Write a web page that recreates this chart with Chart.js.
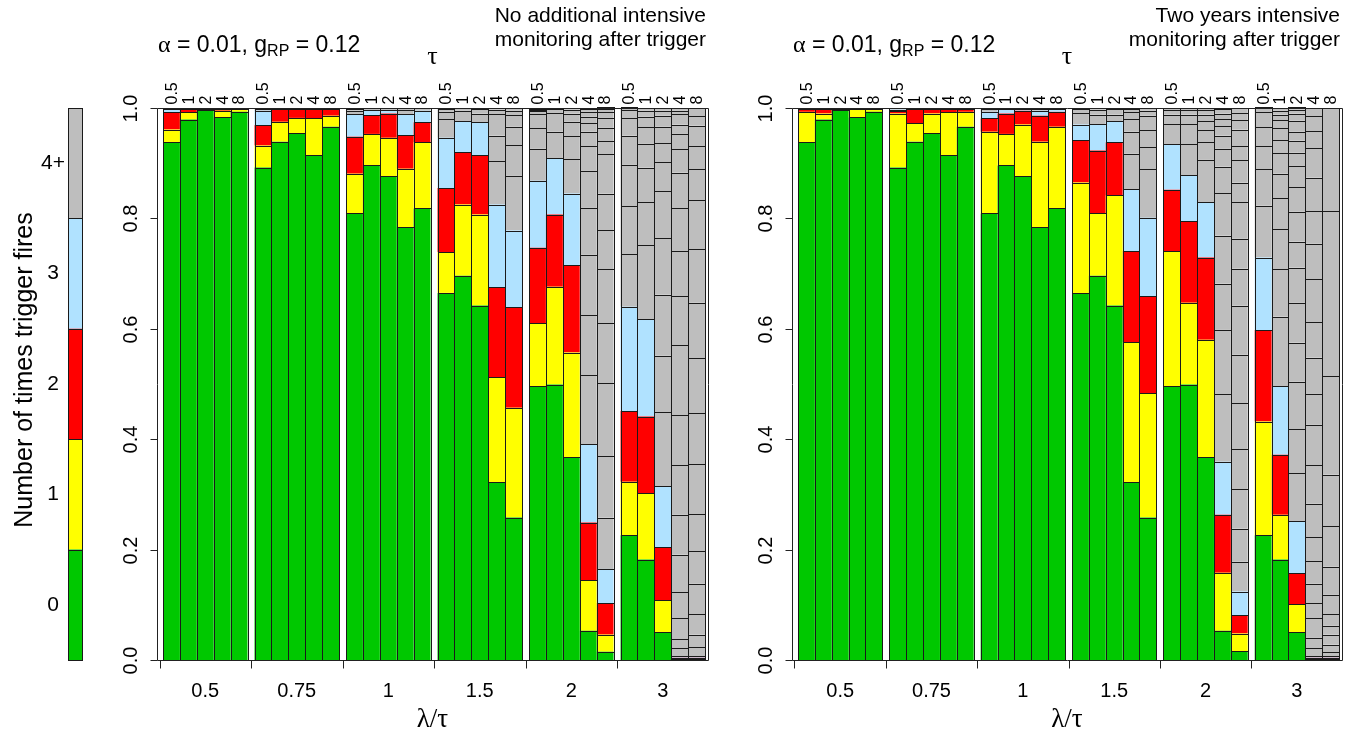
<!DOCTYPE html>
<html>
<head>
<meta charset="utf-8">
<script src="https://cdn.jsdelivr.net/npm/chart.js@4.4.0/dist/chart.umd.min.js"></script>
<style>
  html, body { margin: 0; padding: 0; background: #fff; width: 1362px; height: 742px; overflow: hidden; }
  canvas { position: absolute; left: 0; top: 0; }
</style>
</head>
<body>
<canvas id="key" width="1362" height="742"></canvas>
<canvas id="noExtra" width="1362" height="742"></canvas>
<canvas id="twoYears" width="1362" height="742"></canvas>
<script>
// Group labels (lambda / tau), bar labels (tau) and axis labels
const ratioLabels = ['0.5', '0.75', '1', '1.5', '2', '3'];
const tauLabels = ['0.5', '1', '2', '4', '8'];
const yTickLabels = ['0.0', '0.2', '0.4', '0.6', '0.8', '1.0'];
const fireLabels = ['0', '1', '2', '3', '4+'];

// Fractions of runs with 0, 1, 2, 3 trigger fires; one bar per (lambda/tau, tau) pair
// --- no additional intensive monitoring ---
const zeroA = [
  0.938, 0.979, 0.997, 0.983, 0.993,
  0.892, 0.939, 0.954, 0.914, 0.966,
  0.809, 0.896, 0.876, 0.784, 0.818,
  0.665, 0.696, 0.642, 0.322, 0.258,
  0.496, 0.499, 0.367, 0.053, 0.015,
  0.226, 0.182, 0.050, 0.001, 0.001];
const oneA = [
  0.023, 0.013, 0.002, 0.012, 0.005,
  0.040, 0.036, 0.028, 0.067, 0.020,
  0.072, 0.057, 0.070, 0.106, 0.120,
  0.074, 0.129, 0.165, 0.190, 0.199,
  0.114, 0.177, 0.190, 0.092, 0.031,
  0.097, 0.120, 0.058, 0.001, 0.001];
const twoA = [
  0.031, 0.006, 0.001, 0.004, 0.001,
  0.037, 0.023, 0.017, 0.018, 0.013,
  0.067, 0.034, 0.044, 0.061, 0.036,
  0.116, 0.095, 0.107, 0.163, 0.182,
  0.137, 0.131, 0.158, 0.104, 0.057,
  0.128, 0.139, 0.096, 0.002, 0.002];
const threeA = [
  0.006, 0.001, 0.000, 0.001, 0.001,
  0.026, 0.001, 0.001, 0.001, 0.001,
  0.041, 0.009, 0.006, 0.038, 0.021,
  0.091, 0.056, 0.060, 0.150, 0.139,
  0.121, 0.102, 0.130, 0.142, 0.062,
  0.189, 0.176, 0.111, 0.003, 0.003];
// 4, 5, 6, ... fires
const moreA = [
  [0.002], [0.001], [], [], [],
  [0.003, 0.002], [0.001], [], [], [],
  [0.006, 0.003, 0.002], [0.004], [0.004], [0.007, 0.004], [0.005],
  [0.034, 0.013, 0.005, 0.002], [0.019, 0.005], [0.016, 0.008, 0.002],
  [0.079, 0.046, 0.039, 0.008, 0.003], [0.099, 0.056, 0.033, 0.021, 0.008, 0.005],
  [0.058, 0.037, 0.026, 0.005, 0.003, 0.002], [0.048, 0.034, 0.007, 0.002],
  [0.062, 0.042, 0.026, 0.015, 0.007, 0.003],
  [0.125, 0.109, 0.109, 0.085, 0.067, 0.045, 0.026, 0.015, 0.012, 0.009, 0.005, 0.002],
  [0.093, 0.111, 0.132, 0.109, 0.098, 0.071, 0.066, 0.071, 0.024, 0.024, 0.018, 0.010, 0.007, 0.002],
  [0.095, 0.087, 0.075, 0.053, 0.031, 0.015, 0.005],
  [0.134, 0.078, 0.063, 0.043, 0.030, 0.019, 0.011, 0.005],
  [0.134, 0.102, 0.111, 0.102, 0.085, 0.053, 0.034, 0.030, 0.020, 0.009, 0.005],
  [0.014, 0.017, 0.038, 0.047, 0.068, 0.072, 0.090, 0.090, 0.127, 0.089, 0.082, 0.077, 0.065, 0.042, 0.028, 0.017, 0.019, 0.006, 0.005],
  [0.016, 0.023, 0.037, 0.055, 0.059, 0.067, 0.091, 0.092, 0.100, 0.100, 0.097, 0.089, 0.056, 0.042, 0.037, 0.017, 0.015]];

// --- two years intensive monitoring ---
const zeroB = [
  0.938, 0.979, 0.997, 0.983, 0.993,
  0.892, 0.939, 0.954, 0.914, 0.966,
  0.809, 0.896, 0.876, 0.784, 0.818,
  0.665, 0.696, 0.642, 0.322, 0.258,
  0.496, 0.499, 0.367, 0.053, 0.016,
  0.226, 0.182, 0.050, 0.001, 0.001];
const oneB = [
  0.055, 0.011, 0.002, 0.016, 0.006,
  0.098, 0.033, 0.036, 0.078, 0.027,
  0.148, 0.057, 0.094, 0.155, 0.148,
  0.200, 0.113, 0.200, 0.254, 0.225,
  0.245, 0.148, 0.213, 0.105, 0.032,
  0.206, 0.081, 0.051, 0.001, 0.001];
const twoB = [
  0.006, 0.009, 0.001, 0.001, 0.001,
  0.005, 0.027, 0.009, 0.007, 0.006,
  0.024, 0.037, 0.025, 0.047, 0.027,
  0.077, 0.114, 0.096, 0.165, 0.176,
  0.111, 0.148, 0.149, 0.105, 0.033,
  0.166, 0.109, 0.056, 0.002, 0.002];
const threeB = [
  0.001, 0.001, 0.000, 0.000, 0.000,
  0.002, 0.001, 0.001, 0.001, 0.001,
  0.012, 0.009, 0.003, 0.009, 0.006,
  0.028, 0.048, 0.038, 0.112, 0.142,
  0.082, 0.083, 0.100, 0.096, 0.043,
  0.131, 0.124, 0.094, 0.003, 0.003];
const moreB = [
  [], [], [], [], [],
  [0.003], [], [], [], [],
  [0.005, 0.002], [0.001], [0.002], [0.003, 0.002], [0.001],
  [0.021, 0.007, 0.002], [0.017, 0.009, 0.003], [0.012, 0.010, 0.002],
  [0.064, 0.040, 0.023, 0.012, 0.007, 0.001], [0.088, 0.040, 0.031, 0.026, 0.009, 0.005],
  [0.037, 0.017, 0.008, 0.004], [0.056, 0.037, 0.017, 0.008, 0.004],
  [0.077, 0.032, 0.022, 0.016, 0.012, 0.008, 0.004],
  [0.122, 0.117, 0.084, 0.087, 0.077, 0.048, 0.032, 0.024, 0.017, 0.013, 0.010, 0.009],
  [0.054, 0.060, 0.071, 0.073, 0.083, 0.088, 0.089, 0.067, 0.054, 0.066, 0.036, 0.040, 0.026, 0.030, 0.017, 0.013, 0.009],
  [0.094, 0.066, 0.042, 0.034, 0.027, 0.009],
  [0.126, 0.086, 0.072, 0.057, 0.044, 0.037, 0.024, 0.021, 0.015, 0.010, 0.007, 0.005],
  [0.087, 0.080, 0.086, 0.071, 0.072, 0.064, 0.047, 0.054, 0.044, 0.039, 0.024, 0.022, 0.016, 0.020, 0.013, 0.007, 0.004],
  [0.014, 0.019, 0.036, 0.027, 0.035, 0.041, 0.043, 0.061, 0.070, 0.073, 0.056, 0.066, 0.064, 0.078, 0.064, 0.059, 0.061, 0.053, 0.031, 0.027, 0.015],
  [0.007, 0.014, 0.018, 0.016, 0.021, 0.035, 0.051, 0.073, 0.094, 0.178, 0.299, 0.187]];

// ---------- styling ----------
const FILL = ['#00c800', '#ffff00', '#ff0000', '#b0e2ff', '#bebebe'];
const EDGE = '#1a1a1a';
const SANS = '"Liberation Sans", Arial, sans-serif';
const SERIF = '"Liberation Serif", "Times New Roman", serif';

// bar slots on a linear x scale: bars are 1 unit wide, groups separated by GAP
const LEAD = 0.355, GAP = 0.414, XMAX = 32.6, PER = tauLabels.length;
const barX = j => LEAD + Math.floor(j / PER) * (PER + GAP) + (j % PER) + 0.5;

function buildDatasets(zero, one, two, three, more) {
  const base = [zero, one, two, three];
  const extra = Math.max(...more.map(m => m.length));
  const sets = [];
  for (let k = 0; k < 4 + extra; k++) {
    const vals = k < 4 ? base[k] : more.map(m => (k - 4 < m.length ? m[k - 4] : null));
    sets.push({
      label: String(k),
      data: vals.map((v, j) => ({ x: barX(j), y: v })),
      backgroundColor: FILL[Math.min(k, 4)],
      borderWidth: 0,
      inflateAmount: 0,
      barPercentage: 1,
      categoryPercentage: 1
    });
  }
  return sets;
}

// thin outline round every bar segment, centred on its edges
const segmentOutline = {
  id: 'segmentOutline',
  afterDatasetsDraw(chart) {
    const ctx = chart.ctx;
    ctx.save();
    ctx.strokeStyle = EDGE;
    ctx.lineWidth = 1;
    chart.data.datasets.forEach((ds, i) => {
      const meta = chart.getDatasetMeta(i);
      meta.data.forEach((el, j) => {
        const d = ds.data[j];
        const v = (d !== null && typeof d === 'object') ? d.y : d;
        if (v === null || v === undefined) return;
        const p = el.getProps(['x', 'y', 'base', 'width'], true);
        const l = Math.round(p.x - p.width / 2) + 0.5, r = Math.round(p.x + p.width / 2) + 0.5;
        const t = Math.round(Math.min(p.y, p.base)) + 0.5, b = Math.round(Math.max(p.y, p.base)) + 0.5;
        ctx.strokeRect(l, t, r - l, b - t);
      });
    });
    ctx.restore();
  }
};

function panelDecor(noteLines) {
  return {
    id: 'panelDecor',
    afterDraw(chart) {
      const { ctx, chartArea: a, scales: { x, y } } = chart;
      const L = Math.round(a.left) + 0.5, R = Math.round(a.right) + 0.5;
      const T = Math.round(a.top) + 0.5, B = Math.round(a.bottom) + 0.5;
      ctx.save();
      ctx.strokeStyle = '#222';
      ctx.fillStyle = '#000';
      ctx.lineWidth = 1;
      ctx.beginPath();
      ctx.rect(L, T, R - L, B - T);
      ctx.stroke();

      // y axis: ticks and labels parallel to the axis
      ctx.font = '20px ' + SANS;
      ctx.textAlign = 'center';
      ctx.textBaseline = 'alphabetic';
      yTickLabels.forEach(lab => {
        const py = Math.round(y.getPixelForValue(parseFloat(lab))) + 0.5;
        ctx.beginPath(); ctx.moveTo(L - 7, py); ctx.lineTo(L, py); ctx.stroke();
        ctx.save();
        ctx.translate(L - 21, py);
        ctx.rotate(-Math.PI / 2);
        ctx.fillText(lab, 0, 0);
        ctx.restore();
      });

      // x axis: group boundary ticks and lambda/tau labels
      ratioLabels.forEach((lab, g) => {
        const bx = Math.round(x.getPixelForValue(LEAD + g * (PER + GAP) - GAP / 2)) + 0.5;
        ctx.beginPath(); ctx.moveTo(bx, B); ctx.lineTo(bx, B + 8); ctx.stroke();
        const cx = x.getPixelForValue(LEAD + g * (PER + GAP) + PER / 2);
        ctx.textAlign = 'center';
        ctx.fillText(lab, cx, B + 36);
      });

      // tau labels above each bar
      ctx.font = '16px ' + SANS;
      ctx.textAlign = 'left';
      ctx.textBaseline = 'middle';
      for (let j = 0; j < ratioLabels.length * PER; j++) {
        ctx.save();
        ctx.translate(x.getPixelForValue(barX(j)), T - 4);
        ctx.rotate(-Math.PI / 2);
        ctx.fillText(tauLabels[j % PER], 0, 1);
        ctx.restore();
      }

      const mid = (a.left + a.right) / 2;
      ctx.textBaseline = 'alphabetic';
      ctx.textAlign = 'center';
      ctx.font = '26px ' + SERIF;
      ctx.fillText('\u03C4', mid, 64);
      ctx.font = '27px ' + SERIF;
      ctx.fillText('\u03BB/\u03C4', mid, 727);

      // parameter line: alpha = 0.01, g_RP = 0.12
      let tx = a.left + 1;
      const by = 52;
      ctx.textAlign = 'left';
      const put = (s, font, dy) => { ctx.font = font; ctx.fillText(s, tx, by + (dy || 0)); tx += ctx.measureText(s).width; };
      put('\u03B1', '24px ' + SERIF);
      put(' = 0.01, g', '23px ' + SANS);
      put('RP', '16px ' + SANS, 4);
      put(' = 0.12', '23px ' + SANS);

      // monitoring note, top right
      ctx.font = '21px ' + SANS;
      ctx.textAlign = 'right';
      ctx.fillText(noteLines[0], a.right - 2, 22);
      ctx.fillText(noteLines[1], a.right - 2, 46);
      ctx.restore();
    }
  };
}

function makePanel(id, sets, padLeft, padRight, note) {
  return new Chart(document.getElementById(id), {
    type: 'bar',
    data: { datasets: sets },
    options: {
      responsive: false,
      animation: false,
      devicePixelRatio: 1,
      layout: { padding: { left: padLeft, right: padRight, top: 108, bottom: 82 } },
      plugins: { legend: { display: false }, tooltip: { enabled: false } },
      scales: {
        x: {
          type: 'linear', display: false, stacked: true, offset: false, min: 0, max: XMAX,
          afterBuildTicks: s => { s.ticks = [{ value: 0 }, { value: XMAX }]; }
        },
        y: { type: 'linear', display: false, stacked: true, min: 0, max: 1 }
      }
    },
    plugins: [segmentOutline, panelDecor(note)]
  });
}

makePanel('noExtra', buildDatasets(zeroA, oneA, twoA, threeA, moreA), 157, 1362 - 708,
  ['No additional intensive', 'monitoring after trigger']);
makePanel('twoYears', buildDatasets(zeroB, oneB, twoB, threeB, moreB), 792, 1362 - 1342,
  ['Two years intensive', 'monitoring after trigger']);

// colour key for the number of trigger fires
new Chart(document.getElementById('key'), {
  type: 'bar',
  data: {
    labels: ['fires'],
    datasets: fireLabels.map((lab, k) => ({
      label: lab,
      data: [1],
      backgroundColor: FILL[k],
      borderWidth: 0,
      inflateAmount: 0,
      barPercentage: 1,
      categoryPercentage: 1
    }))
  },
  options: {
    responsive: false,
    animation: false,
    devicePixelRatio: 1,
    layout: { padding: { left: 68, right: 1362 - 82, top: 108, bottom: 82 } },
    plugins: { legend: { display: false }, tooltip: { enabled: false } },
    scales: {
      x: { display: false, stacked: true },
      y: { display: false, stacked: true, min: 0, max: fireLabels.length }
    }
  },
  plugins: [segmentOutline, {
    id: 'keyText',
    afterDraw(chart) {
      const { ctx, chartArea: a, scales: { y } } = chart;
      ctx.save();
      ctx.fillStyle = '#000';
      ctx.font = '21px ' + SANS;
      ctx.textAlign = 'center';
      ctx.textBaseline = 'middle';
      fireLabels.forEach((lab, k) => ctx.fillText(lab, 53, y.getPixelForValue(k + 0.5)));
      ctx.translate(32, (a.top + a.bottom) / 2 - 14);
      ctx.rotate(-Math.PI / 2);
      ctx.textBaseline = 'alphabetic';
      ctx.font = '25px ' + SANS;
      ctx.fillText('Number of times trigger fires', 0, 0);
      ctx.restore();
    }
  }]
});
</script>
</body>
</html>
